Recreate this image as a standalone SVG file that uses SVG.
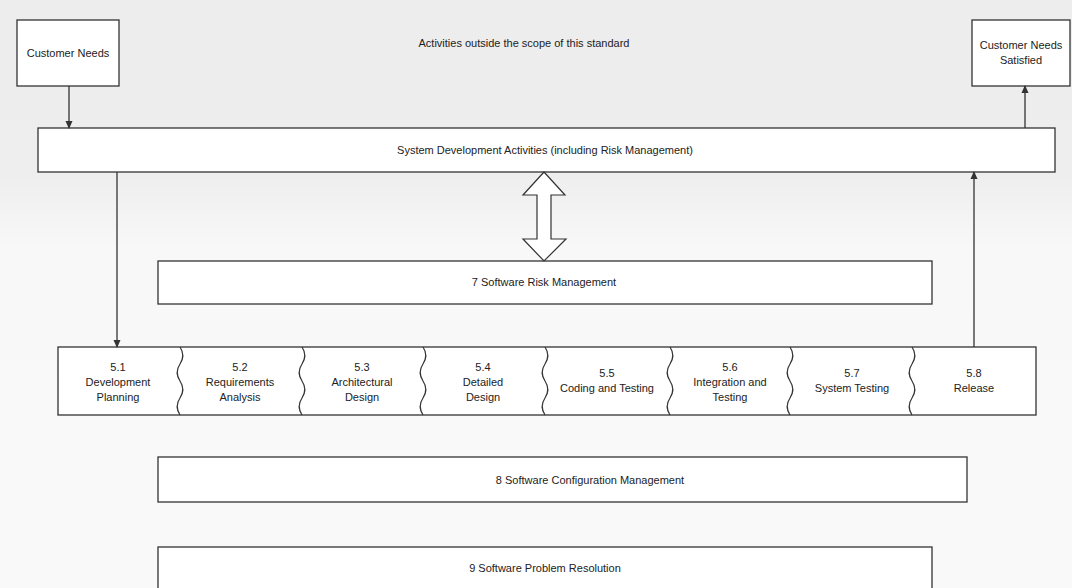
<svg xmlns="http://www.w3.org/2000/svg" width="1072" height="588" viewBox="0 0 1072 588">
<style>
.bx{fill:#fff;stroke:#333;stroke-width:1.3}
.ln{fill:none;stroke:#333;stroke-width:1.3}
.wv{fill:none;stroke:#333;stroke-width:1.2}
text{font-family:"Liberation Sans",Arial,sans-serif;font-size:11px;fill:#222;text-anchor:middle}
</style>
<defs>
<marker id="ah" markerWidth="8" markerHeight="8" refX="7" refY="4" orient="auto" markerUnits="userSpaceOnUse">
<path d="M0,0.5 L8,4 L0,7.5 Z" fill="#333"/>
</marker>
<linearGradient id="bg" x1="0" y1="0" x2="0" y2="1">
<stop offset="0" stop-color="#ededed"/>
<stop offset="0.3" stop-color="#eeeeee"/>
<stop offset="0.42" stop-color="#f8f8f8"/>
<stop offset="1" stop-color="#f9f9f9"/>
</linearGradient>
</defs>
<rect x="0" y="0" width="1072" height="588" fill="url(#bg)"/>
<text x="524" y="47">Activities outside the scope of this standard</text>
<g id="customer-needs"><rect class="bx" x="17" y="20" width="102" height="66"/><text x="68" y="57">Customer Needs</text></g>
<g id="customer-needs-satisfied"><rect class="bx" x="972" y="20" width="98" height="66"/><text x="1021" y="49">Customer Needs</text><text x="1021" y="64">Satisfied</text></g>
<g id="system-dev"><rect class="bx" x="38" y="128" width="1017" height="44"/><text x="545" y="154">System Development Activities (including Risk Management)</text></g>
<g id="risk"><rect class="bx" x="158" y="261" width="774" height="43"/><text x="544" y="286">7  Software Risk Management</text></g>
<g id="process">
<rect class="bx" x="58" y="347" width="978" height="68"/>
<path class="wv" d="M180,347 c4,6 4,11 0,17 s-4,11 0,17 s4,11 0,17 s-4,11 0,17"/>
<path class="wv" d="M302,347 c4,6 4,11 0,17 s-4,11 0,17 s4,11 0,17 s-4,11 0,17"/>
<path class="wv" d="M423,347 c4,6 4,11 0,17 s-4,11 0,17 s4,11 0,17 s-4,11 0,17"/>
<path class="wv" d="M545,347 c4,6 4,11 0,17 s-4,11 0,17 s4,11 0,17 s-4,11 0,17"/>
<path class="wv" d="M670,347 c4,6 4,11 0,17 s-4,11 0,17 s4,11 0,17 s-4,11 0,17"/>
<path class="wv" d="M790,347 c4,6 4,11 0,17 s-4,11 0,17 s4,11 0,17 s-4,11 0,17"/>
<path class="wv" d="M912,347 c4,6 4,11 0,17 s-4,11 0,17 s4,11 0,17 s-4,11 0,17"/>
</g>
<g id="p51"><text x="118" y="371">5.1</text><text x="118" y="386">Development</text><text x="118" y="401">Planning</text></g>
<g id="p52"><text x="240" y="371">5.2</text><text x="240" y="386">Requirements</text><text x="240" y="401">Analysis</text></g>
<g id="p53"><text x="362" y="371">5.3</text><text x="362" y="386">Architectural</text><text x="362" y="401">Design</text></g>
<g id="p54"><text x="483" y="371">5.4</text><text x="483" y="386">Detailed</text><text x="483" y="401">Design</text></g>
<g id="p55"><text x="607" y="377">5.5</text><text x="607" y="392">Coding and Testing</text></g>
<g id="p56"><text x="730" y="371">5.6</text><text x="730" y="386">Integration and</text><text x="730" y="401">Testing</text></g>
<g id="p57"><text x="852" y="377">5.7</text><text x="852" y="392">System Testing</text></g>
<g id="p58"><text x="974" y="377">5.8</text><text x="974" y="392">Release</text></g>
<g id="config"><rect class="bx" x="158" y="457" width="809" height="45"/><text x="590" y="484">8  Software Configuration Management</text></g>
<g id="problem"><rect class="bx" x="158" y="547" width="774" height="60"/><text x="545" y="572">9  Software Problem Resolution</text></g>
<g id="connectors">
<line class="ln" x1="69" y1="86" x2="69" y2="128" marker-end="url(#ah)"/>
<line class="ln" x1="1025" y1="128" x2="1025" y2="86" marker-end="url(#ah)"/>
<line class="ln" x1="117" y1="172" x2="117" y2="347" marker-end="url(#ah)"/>
<line class="ln" x1="974" y1="347" x2="974" y2="172" marker-end="url(#ah)"/>
<polygon points="544,172 565,195 551,195 551,239 566,239 544,261 523,239 537,239 537,195 523,195" fill="#fff" stroke="#333" stroke-width="1.2"/>
</g>
</svg>
